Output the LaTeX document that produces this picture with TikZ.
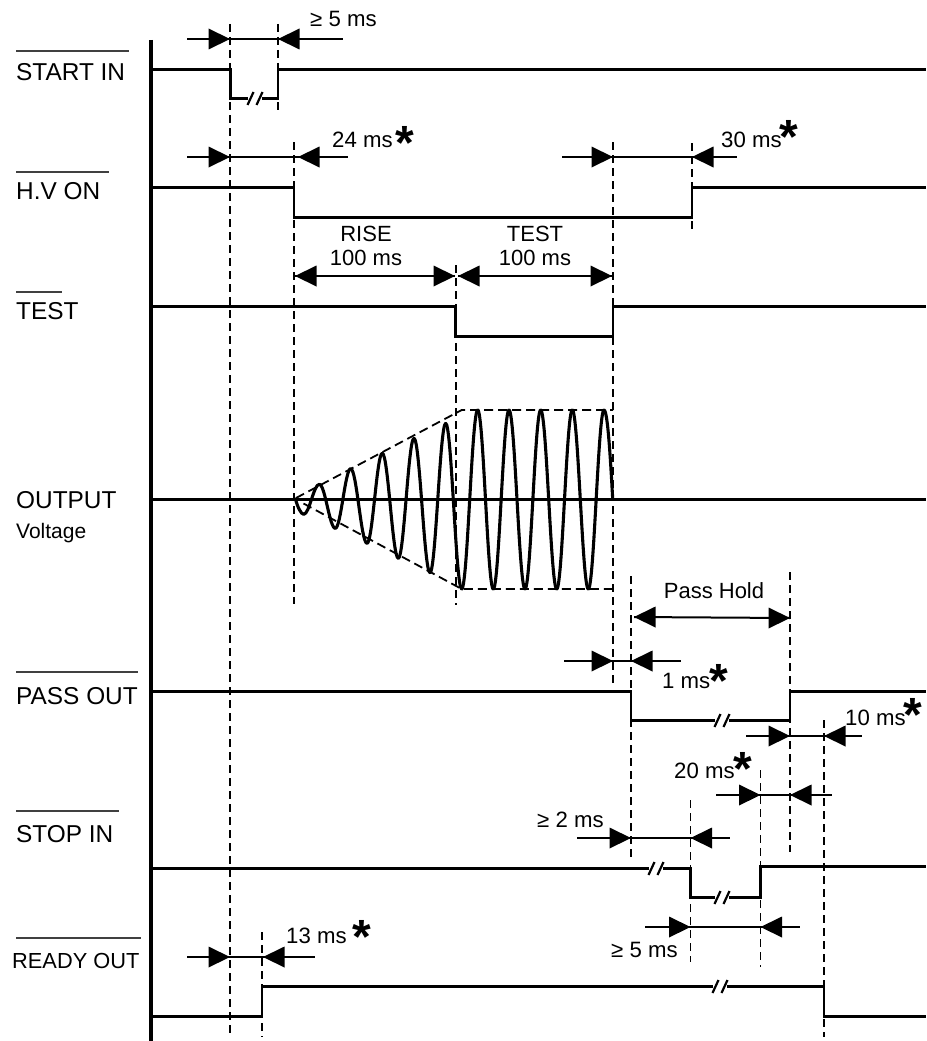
\documentclass[tikz,border=0pt]{standalone}
\usepackage{fontspec}
\setmainfont{Liberation Sans}
\newcommand{\dimbar}[5]{%
  \draw[dimline] (#2,#1) -- (#5,#1);
  \fill (#3,#1) -- ++(-21.5,-10.5) -- ++(0,21) -- cycle;
  \fill (#4,#1) -- ++(21.5,-10.5) -- ++(0,21) -- cycle;}
\newcommand{\brkmark}[2]{%
  \fill[white] (#1-7,#2-2.5) rectangle (#1+7,#2+2.5);
  \draw[slash] (#1-7.5,#2+6.5) -- (#1-1.5,#2-6.5);
  \draw[slash] (#1+1.5,#2+6.5) -- (#1+7.5,#2-6.5);}
\tikzset{
  axisline/.style={line width=3.6pt},
  signal/.style={line width=2.4pt},
  guide/.style={line width=1.8pt,dash pattern=on 8pt off 5pt},
  dimline/.style={line width=2pt},
  slash/.style={line width=2.2pt},
  overbar/.style={line width=1.2pt,black!75},
  wave/.style={line width=3.1pt,line cap=round},
  envelope/.style={line width=1.8pt,dash pattern=on 9pt off 5pt},
  sig label/.style={anchor=base west,inner sep=0pt,font=\fontsize{24.4}{26}\selectfont},
  small label/.style={anchor=base west,inner sep=0pt,font=\fontsize{22.2}{26}\selectfont},
  mid label/.style={anchor=base,inner sep=0pt,font=\fontsize{22}{26}\selectfont},
  star/.style={anchor=center,inner sep=0pt,font=\fontsize{48}{50}\selectfont\bfseries}
}
\begin{document}
\begin{tikzpicture}[x=1pt,y=-1pt]
\useasboundingbox (0,0) rectangle (926,1041);
% guides
\draw[guide] (230,24) -- (230,1037);
\draw[guide] (278,24) -- (278,113);
\draw[guide] (294,142) -- (294,604);
\draw[guide] (613,142) -- (613,686);
\draw[guide] (692,143) -- (692,232);
\draw[guide] (456,265) -- (456,605);
\draw[guide] (631,576) -- (631,858);
\draw[guide] (790,572) -- (790,852);
\draw[guide] (824,720) -- (824,1037);
\draw[guide] (760.5,770) -- (760.5,967);
\draw[guide] (690.5,800) -- (690.5,962);
\draw[guide] (262,932) -- (262,1037);
% axis
\draw[axisline] (151,40) -- (151,1041);
% signals
\draw[signal] (151,69.5) -- (230.5,69.5) -- (230.5,98.5) -- (278,98.5) -- (278,69.5) -- (926,69.5);
\brkmark{255}{98.5}
\draw[signal] (151,187.5) -- (294,187.5) -- (294,217.5) -- (692,217.5) -- (692,187.5) -- (926,187.5);
\draw[signal] (151,306.5) -- (455.5,306.5) -- (455.5,336.5) -- (613,336.5) -- (613,306.5) -- (926,306.5);
\draw[signal] (151,499.5) -- (926,499.5);
\draw[signal] (151,691.5) -- (631,691.5) -- (631,720.5) -- (790,720.5) -- (790,691.5) -- (926,691.5);
\brkmark{722}{720.5}
\draw[signal] (151,868.5) -- (690.5,868.5) -- (690.5,897.5) -- (760.5,897.5) -- (760.5,866.5) -- (926,866.5);
\brkmark{656}{868.5}
\brkmark{722}{897.5}
\draw[signal] (151,1016.5) -- (262,1016.5) -- (262,986.5) -- (824,986.5) -- (824,1016.5) -- (926,1016.5);
\brkmark{720}{986.5}
% output voltage envelope
\draw[envelope] (296,498) -- (461.7,410) -- (613,410);
\draw[envelope] (303.5,503.5) -- (461.7,589) -- (613,589);
% wave
\draw[wave] (295.5,499) .. controls (297.5,507) and (301,514.3) .. (303.7,514.3);
\foreach \x/\y [remember=\x as \lx (initially 303.7), remember=\y as \ly (initially 514.3)] in
  {319.3/484.3,335.3/528.3,350.7/468.7,367/543.3,382.3/453.3,398.3/558.3,414/438.3,430/572.7,
   445.7/423.3,461.7/589,477.7/410,493.3/589,509/410,525/589,540.7/410,556.7/589,572.3/410,588.3/589,604/410}{
  \pgfmathsetmacro\dd{0.3642*(\x-\lx)}
  \draw[wave] (\lx,\ly) .. controls (\lx+\dd,\ly) and (\x-\dd,\y) .. (\x,\y);
}
\draw[wave] (604,410) .. controls (608,410) and (611,470) .. (612.7,499);
% timing bars
\dimbar{39}{187}{230}{278}{343}
\dimbar{157}{187}{230}{298}{348}
\dimbar{157}{562}{613}{692}{737}
\dimbar{661}{564}{613}{631}{681}
\dimbar{736}{746}{790}{824}{862}
\dimbar{795}{716}{760.5}{790}{832}
\dimbar{838}{577}{631}{690.5}{730}
\dimbar{927}{645}{690.5}{760.5}{800}
\dimbar{957}{187}{230}{263}{315}
% double arrows
\draw[dimline] (294,276) -- (455,276);
\fill (295,276) -- ++(21.5,-10.5) -- ++(0,21) -- cycle;
\fill (455,276) -- ++(-21.5,-10.5) -- ++(0,21) -- cycle;
\draw[dimline] (458,276) -- (612,276);
\fill (458,276) -- ++(21.5,-10.5) -- ++(0,21) -- cycle;
\fill (612,276) -- ++(-21.5,-10.5) -- ++(0,21) -- cycle;
\draw[dimline] (634,617) -- (790,618);
\fill (634,617) -- ++(21.5,-10.5) -- ++(0,21) -- cycle;
\fill (790,618) -- ++(-21.5,-10.5) -- ++(0,21) -- cycle;
% signal labels
\draw[overbar] (16,51) -- (129,51);
\node[sig label] (l1) at (16,81) {START IN};
\draw[overbar] (16,172) -- (109,172);
\node[sig label] (l2) at (16,199) {H.V ON};
\draw[overbar] (16,292) -- (62,292);
\node[sig label] (l3) at (16,319) {TEST};
\node[sig label] (l4) at (16,508) {OUTPUT};
\node[anchor=base west,inner sep=0pt,font=\fontsize{21}{26}\selectfont] (l5) at (16,538) {Voltage};
\draw[overbar] (16,672) -- (138,672);
\node[sig label] (l6) at (16,704) {PASS OUT};
\draw[overbar] (16,811) -- (119,811);
\node[sig label] (l7) at (16,842) {STOP IN};
\draw[overbar] (16,938) -- (141,938);
\node[anchor=base west,inner sep=0pt,font=\fontsize{21.8}{26}\selectfont] (l8) at (12,968) {READY OUT};
% timing labels
\node[small label] (t1) at (310,27) {≥ 5 ms};
\node[small label] (t2) at (332,147) {24 ms};
\node[star] (s2) at (405,143) {*};
\node[small label] (t3) at (721,147) {30 ms};
\node[star] (s3) at (789,137) {*};
\node[mid label] (t4) at (366,241.5) {RISE};
\node[mid label] (t5) at (366,265.5) {100 ms};
\node[mid label] (t6) at (535,241.5) {TEST};
\node[mid label] (t7) at (535,265.5) {100 ms};
\node[mid label] (t8) at (714,598) {Pass Hold};
\node[small label] (t9) at (662,688) {1 ms};
\node[star] (s9) at (719,681) {*};
\node[small label] (t10) at (845,725) {10 ms};
\node[star] (s10) at (913,715) {*};
\node[small label] (t11) at (674,778) {20 ms};
\node[star] (s11) at (743,769) {*};
\node[small label] (t12) at (537,827) {≥ 2 ms};
\node[small label] (t13) at (611,957) {≥ 5 ms};
\node[small label] (t14) at (286,943) {13 ms};
\node[star] (s14) at (362,937) {*};
\end{tikzpicture}
\end{document}
